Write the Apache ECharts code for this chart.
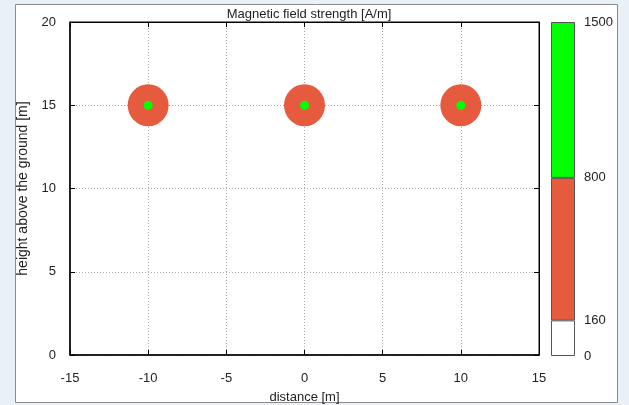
<!DOCTYPE html>
<html>
<head>
<meta charset="utf-8">
<script src="https://cdn.jsdelivr.net/npm/echarts@6/dist/echarts.min.js"></script>
<style>
  html, body { margin: 0; padding: 0; background: #eaf0f8; }
  #main { width: 629px; height: 405px; }
</style>
</head>
<body>
<div id="main"></div>
<script>
// conductor positions [x, y]
const conductors = [[-10, 15], [0, 15], [10, 15]];
// colour scale bands (A/m)
const bandEdges = [0, 160, 800, 1500];
const bandSizes = [160, 640, 700];
const bandColors = ['#ffffff', '#e65a3d', '#00ff00'];

const chart = echarts.init(document.getElementById('main'));
const txt = { color: '#222', fontFamily: 'Liberation Sans, Arial, sans-serif', fontSize: 13 };

const option = {
    backgroundColor: '#eaf0f8',
    animation: false,
    graphic: [{
        type: 'rect',
        shape: { x: 15.5, y: 4.5, width: 602, height: 398 },
        style: { fill: '#ffffff', stroke: '#8a8a8a', lineWidth: 1 },
        z: -10
    }],
    title: {
        text: 'Magnetic field strength [A/m]',
        left: 304, top: 3, textAlign: 'center',
        textStyle: { color: '#222', fontWeight: 'normal', fontSize: 13, fontFamily: 'Liberation Sans, Arial, sans-serif' }
    },
    grid: [
        { left: 70, top: 22, width: 469, height: 333, show: true, borderColor: '#000', borderWidth: 1, outerBoundsMode: 'none', containLabel: false },
        { left: 551, top: 22, width: 24, height: 334, outerBoundsMode: 'none', containLabel: false }
    ],
    xAxis: [{
        type: 'value', gridIndex: 0, min: -15, max: 15, interval: 5,
        name: 'distance [m]', nameLocation: 'middle', nameGap: 36,
        nameTextStyle: Object.assign({}, txt, { fontSize: 13 }),
        axisLine: { onZero: false, lineStyle: { color: '#000', width: 1.5 } },
        axisTick: { inside: true, length: 5, lineStyle: { color: '#000' } },
        axisLabel: Object.assign({ margin: 17 }, txt),
        splitLine: { show: true, lineStyle: { color: '#aaa', type: [1, 2] } }
    }, {
        type: 'value', gridIndex: 0, position: 'top', min: -15, max: 15, interval: 5,
        axisLine: { onZero: false, lineStyle: { color: '#000' } },
        axisTick: { inside: true, length: 5, lineStyle: { color: '#000' } },
        axisLabel: { show: false }, splitLine: { show: false }
    }, {
        type: 'category', gridIndex: 1, data: ['c'], show: false
    }],
    yAxis: [{
        type: 'value', gridIndex: 0, min: 0, max: 20, interval: 5,
        name: 'height above the ground [m]', nameLocation: 'middle', nameGap: 40,
        nameTextStyle: Object.assign({}, txt, { fontSize: 14 }),
        axisLine: { onZero: false, lineStyle: { color: '#000', width: 1.5 } },
        axisTick: { inside: true, length: 5, lineStyle: { color: '#000' } },
        axisLabel: Object.assign({ margin: 14 }, txt),
        splitLine: { show: true, lineStyle: { color: '#aaa', type: [1, 2] } }
    }, {
        type: 'value', gridIndex: 0, position: 'right', min: 0, max: 20, interval: 5,
        axisLine: { show: true, onZero: false, lineStyle: { color: '#000' } },
        axisTick: { show: true, inside: true, length: 5, lineStyle: { color: '#000' } },
        axisLabel: { show: false }, splitLine: { show: false }
    }, {
        type: 'value', gridIndex: 1, position: 'right', min: 0, max: 1500,
        axisLine: { show: false }, axisTick: { show: false },
        splitLine: { show: false },
        axisLabel: Object.assign({ margin: 9, customValues: bandEdges, formatter: v => String(v) }, txt)
    }],
    series: [{
        type: 'scatter', xAxisIndex: 0, yAxisIndex: 0,
        data: conductors, symbolSize: [41, 42],
        itemStyle: { color: bandColors[1], opacity: 1 }, z: 3
    }, {
        type: 'scatter', xAxisIndex: 0, yAxisIndex: 0,
        data: conductors, symbolSize: 9,
        itemStyle: { color: bandColors[2], opacity: 1 }, z: 4
    }].concat(bandSizes.map((v, i) => ({
        type: 'bar', xAxisIndex: 2, yAxisIndex: 2, stack: 'scale',
        data: [v], barWidth: '100%',
        itemStyle: { color: bandColors[i], borderColor: '#555', borderWidth: 1 }
    })))
};
chart.setOption(option);
</script>
</body>
</html>
